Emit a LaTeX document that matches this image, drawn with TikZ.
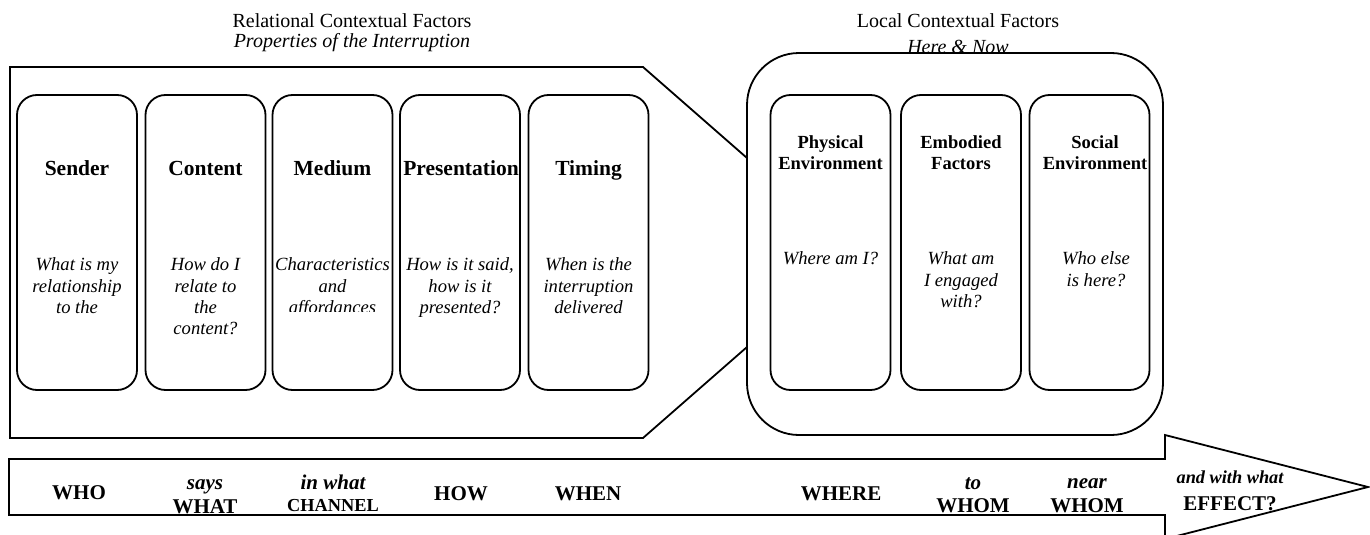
\documentclass[tikz,border=0pt]{standalone}
\usepackage{fontspec}
\setmainfont{Liberation Serif}
\newcommand{\fs}[1]{\fontsize{#1}{#1}\selectfont}
\tikzset{
  outl/.style={draw=black, line width=1.8pt, line join=miter},
  factorbox/.style={draw=black, line width=1.8pt, rounded corners=20pt, minimum width=120pt, minimum height=295pt, inner sep=0pt, fill=white},
  hdr/.style={anchor=base, inner sep=0pt, font=\fs{20}},
  hdri/.style={anchor=base, inner sep=0pt, font=\fs{20}\itshape},
  ttl/.style={anchor=base, inner sep=0pt, font=\fs{21.5}\bfseries},
  ttlr/.style={anchor=base, inner sep=0pt, font=\fs{18.5}\bfseries},
  qst/.style={anchor=base, inner sep=0pt, font=\fs{18.6}\itshape},
  wb/.style={anchor=base, inner sep=0pt, font=\fs{21}\bfseries},
  wi/.style={anchor=base, inner sep=0pt, font=\fs{21}\bfseries\itshape},
  ws/.style={anchor=base, inner sep=0pt, font=\fs{18.3}\bfseries},
  wsi/.style={anchor=base, inner sep=0pt, font=\fs{18.3}\bfseries\itshape},
}
\begin{document}
\begin{tikzpicture}[x=1pt,y=-1pt]
\useasboundingbox (0,0) rectangle (1370,535);
\fill[white] (0,0) rectangle (1370,535);

% headers
\node[hdr]  (h1) at (352,28) {Relational Contextual Factors};
\node[hdri] (h2) at (352,48) {Properties of the Interruption};
\node[hdr]  (h3) at (958,28) {Local Contextual Factors};
\node[hdri] (h4) at (958,53) {Here \& Now};

% relational pentagon
\draw[outl] (10,67) -- (643,67) -- (855,252.5) -- (643,438) -- (10,438) -- cycle;

% local rounded container
\node[draw=black, line width=1.8pt, fill=white, rounded corners=52pt, minimum width=416pt, minimum height=382pt, inner sep=0pt] (local) at (955,244) {};

% left boxes
\node[factorbox] (b1) at (77,242.5) {};
\node[factorbox] (b2) at (205.5,242.5) {};
\node[factorbox] (b3) at (332.5,242.5) {};
\node[factorbox] (b4) at (460,242.5) {};
\node[factorbox] (b5) at (588.5,242.5) {};
% right boxes
\node[factorbox] (r1) at (830.5,242.5) {};
\node[factorbox] (r2) at (961,242.5) {};
\node[factorbox] (r3) at (1089.5,242.5) {};

% titles (left)
\node[ttl] (t1) at (77,175) {Sender};
\node[ttl] (t2) at (205.5,175) {Content};
\node[ttl] (t3) at (332.5,175) {Medium};
\node[ttl] (t4) at (461,175) {Presentation};
\node[ttl] (t5) at (588.5,175) {Timing};

% questions (left)
\node[qst] (q1a) at (77,270) {What is my};
\node[qst] (q1b) at (77,292) {relationship};
\node[qst] (q1c) at (77,313) {to the};

\node[qst] (q2a) at (205.5,270) {How do I};
\node[qst] (q2b) at (205.5,292) {relate to};
\node[qst] (q2c) at (205.5,313) {the};
\node[qst] (q2d) at (205.5,334) {content?};

\node[qst] (q3a) at (332.5,270) {Characteristics};
\node[qst] (q3b) at (332.5,292) {and};
\begin{scope}
\clip (270,295) rectangle (395,311);
\node[qst] (q3c) at (332.5,313) {affordances};
\end{scope}

\node[qst] (q4a) at (460,270) {How is it said,};
\node[qst] (q4b) at (460,292) {how is it};
\node[qst] (q4c) at (460,313) {presented?};

\node[qst] (q5a) at (588.5,270) {When is the};
\node[qst] (q5b) at (588.5,292) {interruption};
\node[qst] (q5c) at (588.5,313) {delivered};

% titles (right)
\node[ttlr] (u1a) at (830.5,148) {Physical};
\node[ttlr] (u1b) at (830.5,169) {Environment};
\node[ttlr] (u2a) at (961,148) {Embodied};
\node[ttlr] (u2b) at (961,169) {Factors};
\node[ttlr] (u3a) at (1095,148) {Social};
\node[ttlr] (u3b) at (1095,169) {Environment};

% questions (right)
\node[qst] (p1a) at (830.5,264) {Where am I?};
\node[qst] (p2a) at (961,264) {What am};
\node[qst] (p2b) at (961,286) {I engaged};
\node[qst] (p2c) at (961,307) {with?};
\node[qst] (p3a) at (1096,264) {Who else};
\node[qst] (p3b) at (1096,286) {is here?};

% bottom arrow
\draw[outl] (9,459) -- (1165,459) -- (1165,435) -- (1368,487) -- (1165,539) -- (1165,515) -- (9,515) -- cycle;

% arrow labels
\node[wb]  (w1)  at (79,499)   {WHO};
\node[wi]  (w2a) at (205,489)  {says};
\node[wb]  (w2b) at (205,513)  {WHAT};
\node[wi]  (w3a) at (333,489)  {in what};
\node[ws]  (w3b) at (333,511)  {CHANNEL};
\node[wb]  (w4)  at (461,500)  {HOW};
\node[wb]  (w5)  at (588,500)  {WHEN};
\node[wb]  (w6)  at (841,500)  {WHERE};
\node[wi]  (w7a) at (973,489)  {to};
\node[wb]  (w7b) at (973,512)  {WHOM};
\node[wi]  (w8a) at (1087,488) {near};
\node[wb]  (w8b) at (1087,512) {WHOM};
\node[wsi] (w9a) at (1230,483) {and with what};
\node[wb]  (w9b) at (1230,510) {EFFECT?};
\end{tikzpicture}
\end{document}
